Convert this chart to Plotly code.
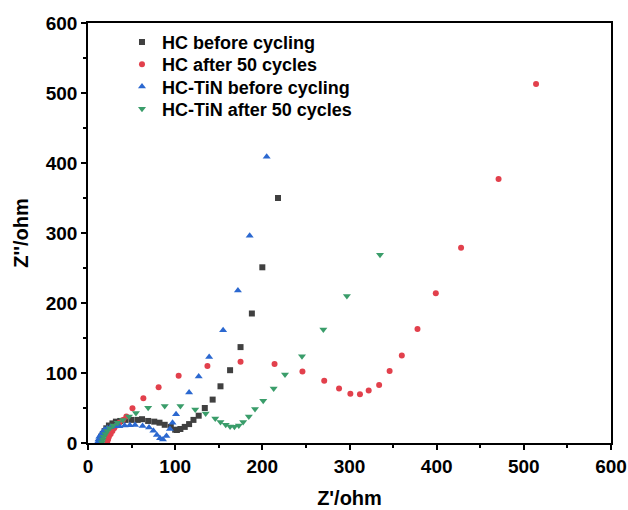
import plotly.graph_objects as go

# HC before cycling (black squares)
hc_before_x = [13, 14, 15, 17, 19, 21, 24, 28, 32, 37, 43, 50, 57, 62, 69, 76, 82, 88, 95, 100, 102, 106, 111, 116, 121, 127, 134, 143, 152, 163, 175, 188, 200, 218]
hc_before_y = [1, 5, 9, 13, 17, 21, 25, 28, 30.5, 31.5, 33, 33, 33, 34, 31.5, 30.5, 29, 26, 23, 19, 18.6, 20, 23, 27, 33, 39, 50, 62, 81, 104, 137, 185, 251, 350]

# HC after 50 cycles (red circles)
hc_after_x = [22, 23, 24, 26, 28, 30, 33, 36, 40, 44, 51, 63.5, 81, 104, 137, 175, 214, 246, 271, 288, 301, 312, 322, 334, 346, 360, 378, 399, 428, 471, 514]
hc_after_y = [1, 5, 9, 13, 17, 21, 25, 29, 33, 38, 49.5, 64, 79.5, 96, 110, 116, 113, 102, 89, 78, 70.5, 69.5, 75, 83, 103, 125, 163, 214, 279, 377, 513]

# HC-TiN before cycling (blue up-triangles)
tin_before_x = [11, 12, 13, 15, 17, 19, 22, 26, 31, 36, 42, 48, 54, 62.6, 70, 75, 79, 82.6, 86, 90, 94, 97, 101, 116, 127, 139, 155, 172, 185.5, 205]
tin_before_y = [1, 5, 9, 12, 16, 19, 21, 23, 24, 24, 25, 25.5, 25.7, 24.3, 22, 17.6, 11.4, 6.7, 5, 10, 20, 29, 41, 72, 95, 123, 161, 218, 296, 409]

# HC-TiN after 50 cycles (green down-triangles)
tin_after_x = [16, 17, 18, 20, 22, 25, 29, 34, 40, 47, 55, 69, 88, 106, 123, 135, 146, 152, 158, 163, 168, 173, 178, 184.5, 191.6, 201, 213, 226, 245.5, 270, 297, 335]
tin_after_y = [1, 5, 9, 13, 17, 21, 25, 29, 33, 38, 43, 50.5, 53, 53, 48, 42, 35, 30, 26, 23.5, 23.3, 25, 30, 38, 48.5, 60.5, 78, 98, 124, 162, 210, 269]

series = [
    ("HC before cycling", hc_before_x, hc_before_y, "square", "#404040", 6),
    ("HC after 50 cycles", hc_after_x, hc_after_y, "circle", "#e2404c", 6),
    ("HC-TiN before cycling", tin_before_x, tin_before_y, "triangle-up", "#2b68d0", 7),
    ("HC-TiN after 50 cycles", tin_after_x, tin_after_y, "triangle-down", "#3a9d6a", 7),
]
legend_ids = ["legend", "legend2", "legend3", "legend4"]
legend_rows = [0.954, 0.901, 0.848, 0.795]

fig = go.Figure()
for (name, xs, ys, sym, col, sz), lid in zip(series, legend_ids):
    fig.add_trace(go.Scatter(x=xs, y=ys, mode="markers", name=name, legend=lid,
                             marker=dict(symbol=sym, color=col, size=sz, line=dict(width=0))))

FONT = "Liberation Sans, Arial"
axis_common = dict(
    showgrid=False, zeroline=False, showline=True, linecolor="black", linewidth=1.5,
    mirror=True, ticks="outside", ticklen=5, tickwidth=1.5, tickcolor="black",
    tickfont=dict(family=FONT, size=19, color="black", weight="bold"),
    minor=dict(ticks="outside", ticklen=3, tickwidth=1.5, tickcolor="black", dtick=50),
    dtick=100, automargin=False,
)

legend_layouts = {}
for lid, ly in zip(legend_ids, legend_rows):
    legend_layouts[lid] = dict(x=0.065, y=ly, xanchor="left", yanchor="middle",
                               bgcolor="rgba(0,0,0,0)",
                               font=dict(family=FONT, size=18, weight="bold", color="black"),
                               itemsizing="trace")

fig.update_layout(
    width=628, height=510,
    margin=dict(l=88, r=17, t=23, b=67),
    paper_bgcolor="white", plot_bgcolor="white",
    font=dict(family=FONT, color="black"),
    xaxis=dict(range=[0, 600], title=dict(text="Z'/ohm", font=dict(size=20, weight="bold"), standoff=15), **axis_common),
    yaxis=dict(range=[0, 600], title=dict(text="Z''/ohm", font=dict(size=20, weight="bold"), standoff=12), **axis_common),
    showlegend=True,
    **legend_layouts,
)

fig.write_html("out.html")
